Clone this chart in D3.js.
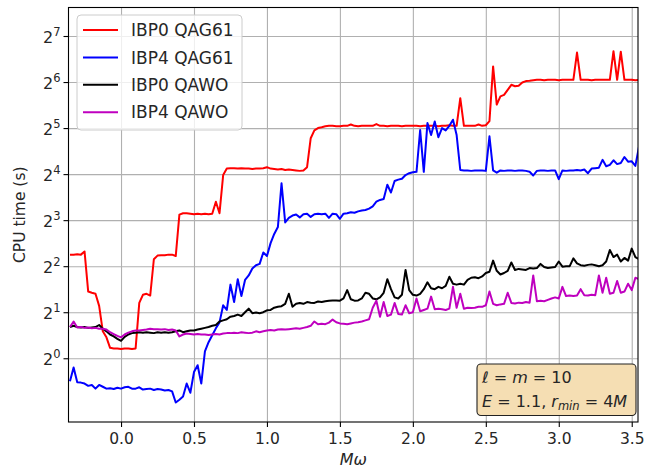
<!DOCTYPE html>
<html><head><meta charset="utf-8">
<script src="https://cdn.jsdelivr.net/npm/d3@7"></script>
<style>
body{margin:0;background:#fff}
svg{display:block}
text{font-family:"DejaVu Sans",sans-serif;fill:#262626}
</style>
</head><body>
<svg id="chart" width="657" height="470"></svg>
<script>
// ---- data (CPU time in seconds, sampled on a uniform M*omega grid) ----
const omegaStart = -0.35, omegaStep = 0.025;
const ibp0Qag61 = [4.76,4.76,4.79,4.76,4.99,2.73,2.68,2.64,2.20,1.50,
1.37,1.17,1.16,1.16,1.15,1.16,1.16,1.15,1.16,2.30,
2.60,2.64,2.57,4.44,4.69,4.72,4.72,4.76,4.76,4.66,
8.70,8.88,8.88,8.82,8.75,8.82,8.75,8.82,8.75,8.82,
10.56,8.88,15.78,17.39,17.50,17.50,17.39,17.50,17.39,17.39,
17.26,17.39,17.39,17.50,17.76,17.39,17.26,17.15,17.26,17.02,
17.15,17.02,16.91,16.80,16.91,
17.76,27.47,30.9,32.0,32.4,32.9,33.1,
33.1,32.9,32.9,33.1,33.1,33.8,33.1,32.9,33.1,33.1,33.1,33.1,34.0,33.1,33.1,32.9,33.1,33.1,33.1,32.9,
33.1,33.1,33.1,33.1,32.9,33.1,33.1,33.1,33.1,32.9,33.1,33.1,33.4,33.1,33.1,
50.2,
33.1,33.1,33.1,33.1,33.8,33.1,33.4,
35.5,81.0,45.6,51.6,52.7,56.9,61.4,60.1,60.5,63.6,64.9,65.3,65.8,
66.2,66.2,65.8,66.2,66.2,66.2,65.8,66.2,66.2,66.2,66.2,
99.7,
66.2,66.2,66.2,65.8,66.2,66.2,66.2,66.2,66.2,
101.8,66.2,101.1,
66.2,66.2,66.2,65.8,66.2];
const ibp4Qag61 = [0.707,0.871,0.698,0.693,0.683,0.660,0.669,0.633,0.669,0.651,
0.633,0.637,0.629,0.642,0.633,0.646,0.651,0.633,0.633,0.646,
0.624,0.629,0.633,0.620,0.629,0.624,0.616,0.620,0.607,0.514,
0.536,0.563,0.683,0.595,0.812,0.901,0.683,1.110,1.274,1.414,
1.569,1.717,2.22,2.07,3.03,2.33,3.29,2.55,3.25,3.48,
3.86,4.06,4.14,4.92,4.66,5.66,6.50,7.21,13.93,7.73,
8.28,8.57,8.70,8.34,8.75,8.82,8.40,8.75,8.82,8.75,
8.82,8.28,8.82,8.75,8.17,8.82,8.88,9.00,8.94,9.13,
9.26,9.32,9.51,9.85,10.56,10.85,11.01,13.64,12.13,14.42,
14.72,14.93,15.78,16.22,16.45,16.56,31.1,16.56,34.5,28.8,
35.3,27.9,32.0,30.9,33.1,36.3,28.8,17.02,16.91,16.91,
16.80,16.91,16.91,16.91,16.80,28.3,16.91,16.34,16.91,16.80,
16.91,16.91,16.80,16.91,16.91,16.80,16.56,15.67,16.80,16.91,
16.91,16.80,16.91,16.91,14.82,16.91,16.80,16.91,16.91,17.02,
16.91,17.15,16.22,17.39,17.50,17.63,19.84,18.0,18.4,19.7,
18.6,18.9,20.7,19.3,19.4,18.1,24.3];
const ibp0Qawo = [1.60,1.63,1.60,1.59,1.60,1.58,1.59,1.60,1.65,1.56,
1.50,1.43,1.39,1.34,1.30,1.38,1.43,1.46,1.47,1.48,
1.47,1.48,1.47,1.46,1.48,1.47,1.48,1.47,1.48,1.50,
1.52,1.48,1.50,1.52,1.52,1.54,1.56,1.58,1.60,1.63,
1.65,1.74,1.77,1.80,1.87,1.89,1.93,1.89,2.00,2.11,
1.97,1.99,1.97,2.00,2.06,2.07,2.14,2.17,2.19,2.27,
2.64,2.17,2.27,2.30,2.27,2.33,2.31,2.30,2.35,2.33,
2.36,2.38,2.39,2.39,2.38,2.46,2.79,2.43,2.38,2.39,
2.46,2.68,2.64,2.46,2.43,2.50,2.68,3.29,2.83,2.50,
2.46,2.60,3.78,2.79,2.60,2.57,2.64,2.83,3.14,2.87,
2.83,2.93,2.87,2.97,3.41,3.07,3.03,3.07,3.03,3.25,
3.36,3.39,3.34,3.43,3.61,3.68,4.35,3.73,3.53,3.61,
3.73,4.23,3.78,3.84,3.81,3.78,3.89,3.86,3.89,4.14,
3.95,3.89,3.92,3.95,4.29,3.97,4.00,4.00,4.50,4.17,
4.06,4.03,4.08,4.11,4.06,4.00,4.06,4.29,5.10,4.59,
4.76,4.29,4.53,4.35,5.21,4.59,4.44];
const ibp4Qawo = [1.60,1.74,1.59,1.60,1.58,1.59,1.57,1.58,1.56,1.56,
1.54,1.48,1.44,1.40,1.37,1.43,1.47,1.50,1.52,1.52,
1.53,1.54,1.56,1.55,1.55,1.54,1.55,1.53,1.54,1.52,
1.39,1.43,1.45,1.44,1.43,1.44,1.43,1.43,1.42,1.43,
1.44,1.43,1.45,1.46,1.46,1.47,1.46,1.48,1.47,1.46,
1.47,1.50,1.48,1.50,1.52,1.53,1.52,1.54,1.55,1.54,
1.55,1.56,1.57,1.56,1.58,1.60,1.63,1.74,1.67,1.68,
1.67,1.71,1.79,1.72,1.69,1.68,1.67,1.69,1.71,1.72,
1.74,1.77,1.80,2.14,2.38,1.87,2.33,1.89,1.93,2.30,
1.95,1.93,2.22,1.97,2.00,2.46,2.03,2.07,2.11,2.53,
2.09,2.11,2.09,2.07,2.11,2.93,2.14,2.64,2.11,2.14,
2.13,2.14,2.17,2.17,2.22,2.73,2.27,2.22,2.25,2.27,
2.68,2.30,2.28,2.31,2.30,2.33,2.31,3.48,2.36,2.38,
2.36,2.41,2.46,2.50,2.46,2.93,2.55,2.57,2.55,2.57,
2.83,2.58,2.57,2.60,2.58,3.48,2.68,3.36,2.64,2.68,
3.20,2.68,2.73,3.07,2.79,3.36,3.29];
const seriesNames = ["IBP0 QAG61","IBP4 QAG61","IBP0 QAWO","IBP4 QAWO"];
const xTickValues = [0, 0.5, 1.0, 1.5, 2.0, 2.5, 3.0, 3.5];
const yTickExponents = [0, 1, 2, 3, 4, 5, 6, 7];
const xDomain = [-0.36, 3.543];
const yDomain = [0.383, 196.6];

// ---- styles / layout ----
const seriesColors = ["#ff0000", "#0000ff", "#000000", "#bf00bf"];
const plot = {left: 68.5, right: 638, top: 7.5, bottom: 422};

const svg = d3.select("#chart");
const x = d3.scaleLinear().domain(xDomain).range([plot.left, plot.right]);
const y = d3.scaleLog().base(2).domain(yDomain).range([plot.bottom, plot.top]);

const allSeries = [ibp0Qag61, ibp4Qag61, ibp0Qawo, ibp4Qawo].map((vals, k) => ({
  name: seriesNames[k],
  color: seriesColors[k],
  points: vals.map((t, i) => ({omega: omegaStart + i * omegaStep, t}))
}));

// grid
const gx = svg.append("g").attr("transform", `translate(0,${plot.bottom})`)
  .call(d3.axisBottom(x).tickValues(xTickValues).tickSize(-(plot.bottom - plot.top)).tickFormat(""));
const gy = svg.append("g").attr("transform", `translate(${plot.left},0)`)
  .call(d3.axisLeft(y).tickValues(yTickExponents.map(e => 2 ** e)).tickSize(-(plot.right - plot.left)).tickFormat(""));
[gx, gy].forEach(g => {
  g.select(".domain").remove();
  g.selectAll("line").attr("stroke", "#b0b0b0").attr("stroke-width", 1.1);
});

// clip
svg.append("clipPath").attr("id", "clip").append("rect")
  .attr("x", plot.left).attr("y", plot.top)
  .attr("width", plot.right - plot.left).attr("height", plot.bottom - plot.top);

const line = d3.line().x(d => x(d.omega)).y(d => y(d.t));
svg.append("g").attr("clip-path", "url(#clip)")
  .selectAll("path").data(allSeries).join("path")
  .attr("d", d => line(d.points))
  .attr("fill", "none")
  .attr("stroke", d => d.color)
  .attr("stroke-width", 2)
  .attr("stroke-linejoin", "round");

// spines
svg.append("rect").attr("x", plot.left).attr("y", plot.top)
  .attr("width", plot.right - plot.left).attr("height", plot.bottom - plot.top)
  .attr("fill", "none").attr("stroke", "#000").attr("stroke-width", 1.1);

// x axis
const ax = svg.append("g").attr("transform", `translate(0,${plot.bottom})`)
  .call(d3.axisBottom(x).tickValues(xTickValues).tickSize(5).tickPadding(6).tickFormat(d3.format(".1f")));
ax.select(".domain").remove();
ax.selectAll("line").attr("stroke", "#000").attr("stroke-width", 1.1);
ax.selectAll("text").attr("font-size", 15.5).attr("font-family", "DejaVu Sans").attr("fill", "#262626");

// y axis
const ay = svg.append("g").attr("transform", `translate(${plot.left},0)`)
  .call(d3.axisLeft(y).tickValues(yTickExponents.map(e => 2 ** e)).tickSize(5).tickFormat(""));
ay.select(".domain").remove();
ay.selectAll("line").attr("stroke", "#000").attr("stroke-width", 1.1);
ay.selectAll(".tick text").each(function(d) {
  const t = d3.select(this);
  t.text(null).attr("x", -8).attr("dy", null).attr("y", 6.5)
    .attr("text-anchor", "end").attr("font-size", 16).attr("font-family", "DejaVu Sans").attr("fill", "#262626");
  t.append("tspan").text("2");
  t.append("tspan").attr("dy", -7).attr("font-size", 11.5).text(Math.round(Math.log2(d)));
});

// axis labels
svg.append("text").attr("x", (plot.left + plot.right) / 2).attr("y", 465)
  .attr("text-anchor", "middle").attr("font-size", 16).attr("font-style", "italic").text("Mω");
svg.append("text").attr("transform", `translate(25,${(plot.top + plot.bottom) / 2}) rotate(-90)`)
  .attr("text-anchor", "middle").attr("font-size", 15.5).text("CPU time (s)");

// legend
const lg = svg.append("g");
lg.append("rect").attr("x", 77).attr("y", 15).attr("width", 165).attr("height", 115).attr("rx", 4)
  .attr("fill", "#fff").attr("fill-opacity", 0.8).attr("stroke", "#cccccc");
allSeries.forEach((s, k) => {
  const cy = 30 + k * 27.4;
  lg.append("line").attr("x1", 83).attr("x2", 118).attr("y1", cy).attr("y2", cy)
    .attr("stroke", s.color).attr("stroke-width", 2);
  lg.append("text").attr("x", 131).attr("y", cy + 6.2).attr("font-size", 17).text(s.name);
});

// annotation box
const an = svg.append("g");
an.append("rect").attr("x", 477).attr("y", 364).attr("width", 159).attr("height", 51.5).attr("rx", 4)
  .attr("fill", "#f5deb3").attr("stroke", "#222").attr("stroke-width", 1.1);
const l1 = an.append("text").attr("x", 482).attr("y", 382.5).attr("font-size", 16);
l1.append("tspan").attr("font-style", "italic").text("ℓ");
l1.append("tspan").text(" = ");
l1.append("tspan").attr("font-style", "italic").text("m");
l1.append("tspan").text(" = 10");
const l2 = an.append("text").attr("x", 482).attr("y", 407).attr("font-size", 16);
l2.append("tspan").attr("font-style", "italic").text("E");
l2.append("tspan").text(" = 1.1, ");
l2.append("tspan").attr("font-style", "italic").text("r");
l2.append("tspan").attr("font-style", "italic").attr("font-size", 11.5).attr("dy", 3).text("min");
l2.append("tspan").attr("dy", -3).text(" = 4");
l2.append("tspan").attr("font-style", "italic").text("M");
</script>
</body></html>
